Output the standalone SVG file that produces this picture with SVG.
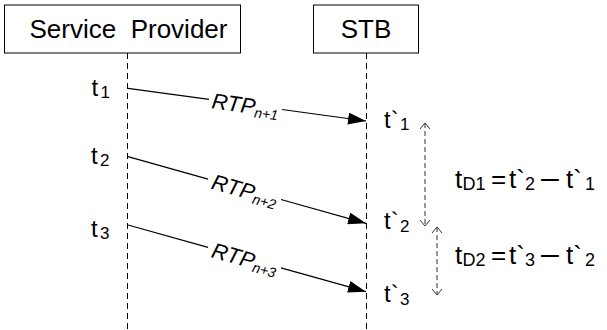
<svg xmlns="http://www.w3.org/2000/svg" width="607" height="330" viewBox="0 0 607 330">
  <style>
    text { font-family: "Liberation Sans", Arial, sans-serif; fill: #000; }
    .box { fill: #fff; stroke: #000; stroke-width: 1; }
    .title { font-size: 26px; text-anchor: middle; }
    .life { stroke: #000; stroke-width: 1; stroke-dasharray: 6 4; fill: none; }
    .msg { stroke: #000; stroke-width: 1.2; fill: none; marker-end: url(#solid); }
    .lbl { font-size: 22px; font-style: italic; text-anchor: middle; }
    .sub { font-size: 14px; }
    .t { font-size: 24px; }
    .ts { font-size: 17px; }
    .dur { stroke: #333; stroke-width: 1; stroke-dasharray: 5 3; fill: none; marker-start: url(#open); marker-end: url(#open); }
    .f { font-size: 26px; }
    .fs { font-size: 18px; }
  </style>
  <defs>
    <marker id="solid" markerUnits="userSpaceOnUse" markerWidth="18" markerHeight="12" viewBox="0 0 18 12" refX="18" refY="6" orient="auto">
      <path d="M0,0 L18,6 L0,12 z" fill="#000"/>
    </marker>
    <marker id="open" markerUnits="userSpaceOnUse" markerWidth="6" markerHeight="10" viewBox="0 0 6 10" refX="6" refY="5" orient="auto-start-reverse" overflow="visible">
      <path d="M0,0 L6,5 L0,10" fill="none" stroke="#333" stroke-width="1"/>
    </marker>
  </defs>

  <g id="service-provider">
    <rect class="box" x="4.5" y="5" width="236" height="48"/>
    <text class="title" x="128.5" y="38" xml:space="preserve">Service  Provider</text>
    <line class="life" x1="127.5" y1="53" x2="127.5" y2="330"/>
  </g>

  <g id="stb">
    <rect class="box" x="313.5" y="5" width="105" height="48"/>
    <text class="title" x="366" y="38">STB</text>
    <line class="life" x1="366.5" y1="53" x2="366.5" y2="330"/>
  </g>

  <g id="send-times">
    <text class="t" x="91.5" y="96">t<tspan class="ts" x="100.5" dy="2">1</tspan></text>
    <text class="t" x="91" y="163.5">t<tspan class="ts" x="100" dy="2">2</tspan></text>
    <text class="t" x="91" y="237">t<tspan class="ts" x="100" dy="2">3</tspan></text>
  </g>

  <g id="receive-times">
    <text class="t" x="384" y="128">t`<tspan class="ts" x="400" dy="2">1</tspan></text>
    <text class="t" x="384" y="229">t`<tspan class="ts" x="400" dy="3">2</tspan></text>
    <text class="t" x="384" y="302">t`<tspan class="ts" x="400" dy="3">3</tspan></text>
  </g>

  <g id="connectors">
    <path class="msg" d="M128,88.3 L209,99.4 M282,109.5 L366,121"/>
    <path class="msg" d="M128,156.7 L208,179.1 M281,199.5 L366,223.3"/>
    <path class="msg" d="M128,225 L208,247.4 M281,267.9 L366,291.7"/>
    <path class="dur" d="M425,123 L425,226"/>
    <path class="dur" d="M437,227 L437,295"/>
  </g>

  <g id="labels">
    <g transform="translate(245.5,104.4) rotate(7.83)">
      <text class="lbl" x="0" y="8.5">RTP<tspan class="sub" dy="3">n+1</tspan></text>
    </g>
    <g transform="translate(245,189.4) rotate(15.64)">
      <text class="lbl" x="0" y="8.5">RTP<tspan class="sub" dy="3">n+2</tspan></text>
    </g>
    <g transform="translate(245,257.8) rotate(15.66)">
      <text class="lbl" x="0" y="8.5">RTP<tspan class="sub" dy="3">n+3</tspan></text>
    </g>
  </g>

  <g id="formula-d1">
    <text class="f" x="455" y="188">t<tspan class="fs" x="462.5" dy="2">D1</tspan><tspan x="491" dy="-2">=</tspan><tspan x="509">t`</tspan><tspan class="fs" x="525" dy="2">2</tspan><tspan x="541" dy="-2" font-size="32">–</tspan><tspan x="566">t`</tspan><tspan class="fs" x="585" dy="2">1</tspan></text>
  </g>

  <g id="formula-d2">
    <text class="f" x="455" y="264">t<tspan class="fs" x="462.5" dy="2">D2</tspan><tspan x="491" dy="-2">=</tspan><tspan x="509">t`</tspan><tspan class="fs" x="525" dy="2">3</tspan><tspan x="541" dy="-2" font-size="32">–</tspan><tspan x="566">t`</tspan><tspan class="fs" x="585" dy="2">2</tspan></text>
  </g>
</svg>
